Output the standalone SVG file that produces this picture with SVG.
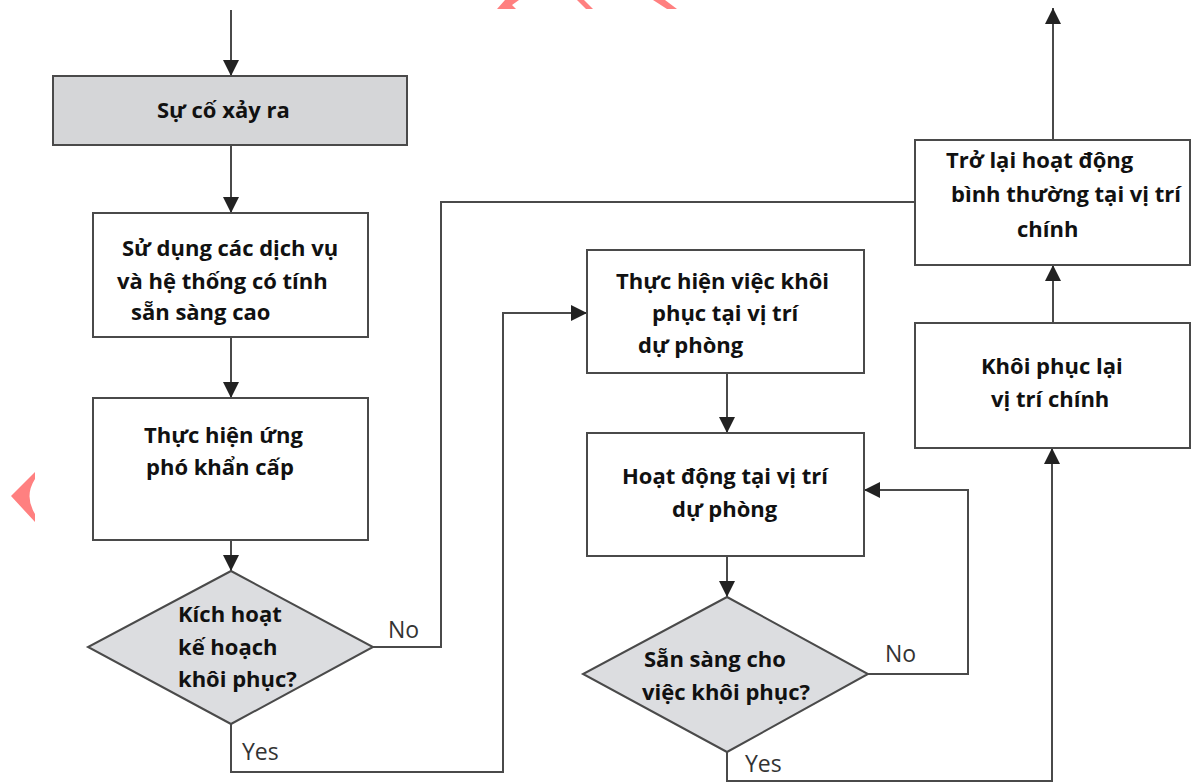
<svg xmlns="http://www.w3.org/2000/svg" width="1193" height="783" viewBox="0 0 1193 783">
<style>
.box{fill:#fff;stroke:#4a4a4a;stroke-width:2}
.grey{fill:#d5d6d8}
.dia{fill:#dcdde0;stroke:#4a4a4a;stroke-width:2}
.t{font-family:"Open Sans","Noto Sans",sans-serif;font-weight:700;font-size:22px;fill:#111}
.lbl{font-family:"Open Sans","Noto Sans",sans-serif;font-size:23px;fill:#333}
.c{fill:none;stroke:#4a4a4a;stroke-width:2}
.red{fill:#ff8080}
</style>
<defs>
<marker id="ah" viewBox="0 0 16 16" refX="16" refY="8" markerWidth="16" markerHeight="16" markerUnits="userSpaceOnUse" orient="auto">
<path d="M0,0 L16,8 L0,16 z" fill="#222"/>
</marker>
</defs>
<g id="decor">
<polygon class="red" points="497,9 505,0 519,0 512,5 516,9"/>
<polygon class="red" points="577,0 584,0 593,9 586,9"/>
<polygon class="red" points="653,0 665,0 677,9 667,9"/>
<path class="red" d="M35,472 L11,496 L35,522 L35,514 Q24,496 35,479 Z"/>
</g>
<g id="connectors">
<path class="c" d="M231,10 V76" marker-end="url(#ah)"/>
<path class="c" d="M231,145 V213" marker-end="url(#ah)"/>
<path class="c" d="M231,337 V398" marker-end="url(#ah)"/>
<path class="c" d="M231,540 V571" marker-end="url(#ah)"/>
<path class="c" d="M373,647 H441 V202 H915"/>
<path class="c" d="M231,724 V772 H503 V313 H587" marker-end="url(#ah)"/>
<path class="c" d="M727,373 V433" marker-end="url(#ah)"/>
<path class="c" d="M727,556 V597" marker-end="url(#ah)"/>
<path class="c" d="M868,674 H968 V490 H864" marker-end="url(#ah)"/>
<path class="c" d="M727,752 V781 H1052 V448" marker-end="url(#ah)"/>
<path class="c" d="M1053,323 V265" marker-end="url(#ah)"/>
<path class="c" d="M1053,140 V8" marker-end="url(#ah)"/>
<text class="lbl" x="388" y="638">No</text>
<text class="lbl" x="242" y="760">Yes</text>
<text class="lbl" x="885" y="662">No</text>
<text class="lbl" x="745" y="772">Yes</text>
</g>
<g id="n1">
<rect class="box grey" x="53" y="76" width="354" height="69"/>
<text class="t" x="157" y="118">Sự cố xảy ra</text>
</g>
<g id="n2">
<rect class="box" x="93" y="213" width="275" height="124"/>
<text class="t" x="122" y="256">Sử dụng các dịch vụ</text>
<text class="t" x="117" y="289">và hệ thống có tính</text>
<text class="t" x="131" y="320">sẵn sàng cao</text>
</g>
<g id="n3">
<rect class="box" x="93" y="398" width="275" height="142"/>
<text class="t" x="144" y="443">Thực hiện ứng</text>
<text class="t" x="146" y="475">phó khẩn cấp</text>
</g>
<g id="d1">
<polygon class="dia" points="231,571 373,647 231,724 88,647"/>
<text class="t" x="178" y="622">Kích hoạt</text>
<text class="t" x="178" y="655">kế hoạch</text>
<text class="t" x="178" y="687">khôi phục?</text>
</g>
<g id="n4">
<rect class="box" x="587" y="250" width="277" height="123"/>
<text class="t" x="616" y="289">Thực hiện việc khôi</text>
<text class="t" x="652" y="321">phục tại vị trí</text>
<text class="t" x="638" y="353">dự phòng</text>
</g>
<g id="n5">
<rect class="box" x="587" y="433" width="277" height="123"/>
<text class="t" x="622" y="484">Hoạt động tại vị trí</text>
<text class="t" x="672" y="517">dự phòng</text>
</g>
<g id="d2">
<polygon class="dia" points="727,597 868,674 727,752 583,674"/>
<text class="t" x="644" y="667">Sẵn sàng cho</text>
<text class="t" x="642" y="700">việc khôi phục?</text>
</g>
<g id="n6">
<rect class="box" x="915" y="323" width="275" height="125"/>
<text class="t" x="981" y="374">Khôi phục lại</text>
<text class="t" x="991" y="407">vị trí chính</text>
</g>
<g id="n7">
<rect class="box" x="915" y="140" width="275" height="125"/>
<text class="t" x="946" y="168">Trở lại hoạt động</text>
<text class="t" x="951" y="202">bình thường tại vị trí</text>
<text class="t" x="1017" y="237">chính</text>
</g>
</svg>
